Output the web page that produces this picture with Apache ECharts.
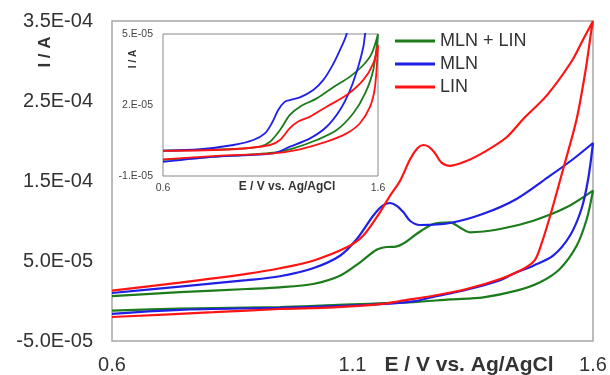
<!DOCTYPE html>
<html>
<head>
<meta charset="utf-8">
<script src="https://cdn.jsdelivr.net/npm/echarts@6/dist/echarts.min.js"></script>
<style>
html,body{margin:0;padding:0;background:#fff;}
#chart{width:610px;height:375px;}
</style>
</head>
<body>
<div id="chart"></div>
<script>
// current values in units of 1E-05 A, potential in V
var UNIT = 1e-5;
var names = ['MLN + LIN', 'MLN', 'LIN'];
var colors = ['#1c7c1c', '#1f1fe6', '#ff1414'];
var mainXTicks = ['0.6', '1.1', '1.6'];
var insetXTicks = ['0.6', '1.6'];

// main plot: forward scan, then reverse scan
var mixFwd = [[0.600,0.6],[0.741,1.1],[0.880,1.5],[0.949,1.71],[1.018,2.13],[1.074,3.16],[1.116,4.84],[1.150,6.4],[1.171,6.75],[1.190,6.8],[1.210,7.35],[1.233,8.375],[1.268,9.625],[1.303,9.84],[1.323,9.2],[1.344,8.59],[1.407,9.0],[1.476,10.04],[1.545,11.71],[1.600,13.8]];
var mixRev = [[1.587,10.25],[1.566,6.9],[1.531,4.0],[1.490,2.34],[1.441,1.29],[1.372,0.46],[1.303,0.2],[1.226,-0.15],[1.060,-0.5],[0.949,-0.75],[0.741,-0.95],[0.600,-1.2]];
var mlnFwd = [[0.600,1.0],[0.741,1.8],[0.880,2.6],[0.949,3.09],[1.018,4.09],[1.074,5.66],[1.109,7.75],[1.143,10.66],[1.162,11.9],[1.178,12.25],[1.192,11.9],[1.206,11.09],[1.220,10.0],[1.240,9.5],[1.303,9.75],[1.372,10.9],[1.441,12.75],[1.511,15.66],[1.559,17.75],[1.600,19.75]];
var mlnRev = [[1.590,15.25],[1.576,11.5],[1.552,8.16],[1.517,5.66],[1.476,4.41],[1.441,3.59],[1.407,2.6],[1.337,1.4],[1.268,0.5],[1.226,-0.05],[1.157,-0.4],[1.060,-0.65],[0.949,-0.85],[0.741,-1.1],[0.600,-1.6]];
var linFwd = [[0.600,1.3],[0.741,2.3],[0.880,3.4],[0.949,4.09],[1.018,5.04],[1.088,6.71],[1.122,8.16],[1.157,11.09],[1.178,13.16],[1.199,15.04],[1.220,17.75],[1.235,19.1],[1.247,19.5],[1.258,19.3],[1.270,18.6],[1.285,17.3],[1.303,16.9],[1.337,17.5],[1.379,18.8],[1.421,20.5],[1.455,22.75],[1.504,25.7],[1.556,30.0],[1.580,32.75],[1.600,35.0]];
var linRev = [[1.597,34.0],[1.585,29.0],[1.566,22.75],[1.538,16.5],[1.511,10.66],[1.492,7.0],[1.479,5.1],[1.455,4.0],[1.407,2.75],[1.337,1.5],[1.268,0.66],[1.199,0.0],[1.157,-0.4],[1.060,-0.8],[0.949,-1.0],[0.811,-1.4],[0.600,-2.0]];

// inset
var inMixFwd = [[0.600,0.07],[0.927,0.14],[1.051,0.24],[1.098,0.45],[1.144,0.94],[1.190,1.58],[1.237,1.93],[1.315,2.28],[1.392,2.75],[1.470,3.2],[1.532,3.69],[1.571,4.18],[1.600,5.0]];
var inMixRev = [[1.578,3.48],[1.540,2.49],[1.485,1.65],[1.408,0.94],[1.315,0.52],[1.206,0.17],[1.113,-0.01],[0.850,-0.18],[0.600,-0.32]];
var inMlnFwd = [[0.600,0.07],[0.772,0.13],[0.927,0.31],[1.020,0.52],[1.074,0.8],[1.106,1.23],[1.136,1.79],[1.167,2.14],[1.190,2.21],[1.237,2.32],[1.299,2.63],[1.346,3.06],[1.385,3.62],[1.423,4.32],[1.454,5.0],[1.500,7.0]];
var inMlnRev = [[1.580,7.0],[1.540,5.0],[1.532,4.46],[1.508,3.62],[1.470,2.63],[1.423,1.79],[1.361,1.08],[1.284,0.59],[1.190,0.24],[1.113,-0.04],[0.850,-0.18],[0.600,-0.4]];
var inLinFwd = [[0.600,0.06],[0.927,0.13],[1.098,0.31],[1.144,0.52],[1.190,1.02],[1.229,1.3],[1.284,1.51],[1.361,1.93],[1.454,2.42],[1.532,3.06],[1.578,3.76],[1.600,4.54]];
var inLinRev = [[1.586,2.77],[1.563,1.93],[1.516,1.23],[1.454,0.8],[1.361,0.45],[1.237,0.13],[1.113,-0.04],[0.850,-0.15],[0.600,-0.3]];

function toSeries(fwd, rev){
  return fwd.concat(rev).map(function(p){ return [p[0], p[1]*UNIT]; });
}

function sciLabel(v){
  var n = Math.round(v/5e-5);
  if (Math.abs(n)%2 !== 1) return '';
  return v.toExponential(1).toUpperCase().replace(/E([+-])(\d+)$/, function(m, sg, d){
    return 'E' + sg + (d.length < 2 ? '0' + d : d);
  });
}
function insetYLabel(v){
  var n = Math.round(v/UNIT);
  if ((n+1)%3 !== 0) return '';
  return n + '.E-05';
}
function xLabel(list){
  return function(v){
    var s = (Math.round(v*10)/10).toFixed(1);
    return list.indexOf(s) >= 0 ? s : '';
  };
}

var myChart = echarts.init(document.getElementById('chart'), null, {renderer:'canvas'});
var font = '"Liberation Sans", Arial, sans-serif';
var mainData = [toSeries(mixFwd,mixRev), toSeries(mlnFwd,mlnRev), toSeries(linFwd,linRev)];
var insetData = [toSeries(inMixFwd,inMixRev), toSeries(inMlnFwd,inMlnRev), toSeries(inLinFwd,inLinRev)];

var series = [];
for (var i=0;i<3;i++){
  series.push({name:names[i], type:'line', xAxisIndex:0, yAxisIndex:0, data:mainData[i], symbol:'none', smooth:0.3, clip:true,
    lineStyle:{width:2.2, color:colors[i]}, itemStyle:{color:colors[i]}, z:3});
}
for (var j=0;j<3;j++){
  series.push({name:names[j], type:'line', xAxisIndex:1, yAxisIndex:1, data:insetData[j], symbol:'none', smooth:0.3, clip:true,
    lineStyle:{width:1.8, color:colors[j]}, itemStyle:{color:colors[j]}, z:5});
}

var option = {
  animation:false,
  backgroundColor:'#fff',
  textStyle:{fontFamily:font},
  legend:{
    data:names, orient:'vertical', left:395, top:32, padding:0, itemWidth:40, itemHeight:3, itemGap:5,
    icon:'rect',
    textStyle:{fontSize:18, color:'#333', lineHeight:18, fontFamily:font}
  },
  grid:[
    {left:112, top:21, width:481, height:321, show:true, borderColor:'#a6a6a6', borderWidth:1.5, backgroundColor:'#fff', containLabel:false},
    {left:163, top:34, width:215, height:142, show:true, borderColor:'#888', borderWidth:1, backgroundColor:'#fff', z:4, containLabel:false}
  ],
  xAxis:[
    {type:'value', gridIndex:0, min:0.6, max:1.6, interval:0.1,
      axisLine:{show:false}, axisTick:{show:false}, splitLine:{show:false},
      axisLabel:{formatter:xLabel(mainXTicks), fontSize:20, color:'#333', margin:14, fontFamily:font}},
    {type:'value', gridIndex:1, min:0.6, max:1.6, interval:0.1,
      axisLine:{show:false}, axisTick:{show:false}, splitLine:{show:false},
      axisLabel:{formatter:xLabel(insetXTicks), fontSize:10.5, color:'#444', margin:7, fontFamily:font}}
  ],
  yAxis:[
    {type:'value', gridIndex:0, min:-5e-5, max:3.5e-4, interval:5e-5,
      axisLine:{show:false}, axisTick:{show:false}, splitLine:{show:false},
      axisLabel:{formatter:sciLabel, fontSize:20, color:'#333', margin:19, fontFamily:font}},
    {type:'value', gridIndex:1, min:-1e-5, max:5e-5, interval:1e-5,
      axisLine:{show:false}, axisTick:{show:false}, splitLine:{show:false},
      axisLabel:{formatter:insetYLabel, fontSize:10.5, color:'#444', margin:10, fontFamily:font}}
  ],
  graphic:[
    {type:'text', x:45, y:52, rotation:Math.PI/2, z:10,
      style:{text:'I / A', font:'bold 17px ' + font, fill:'#333', align:'center', verticalAlign:'middle'}},
    {type:'text', x:133, y:59, rotation:Math.PI/2, z:10,
      style:{text:'I / A', font:'bold 10px ' + font, fill:'#333', align:'center', verticalAlign:'middle'}},
    {type:'text', x:469, y:365, z:10,
      style:{text:'E / V vs. Ag/AgCl', font:'bold 21px ' + font, fill:'#333', align:'center', verticalAlign:'middle'}},
    {type:'text', x:287, y:187, z:10,
      style:{text:'E / V vs. Ag/AgCl', font:'bold 12px ' + font, fill:'#333', align:'center', verticalAlign:'middle'}}
  ],
  series:series
};
myChart.setOption(option);
</script>
</body>
</html>
